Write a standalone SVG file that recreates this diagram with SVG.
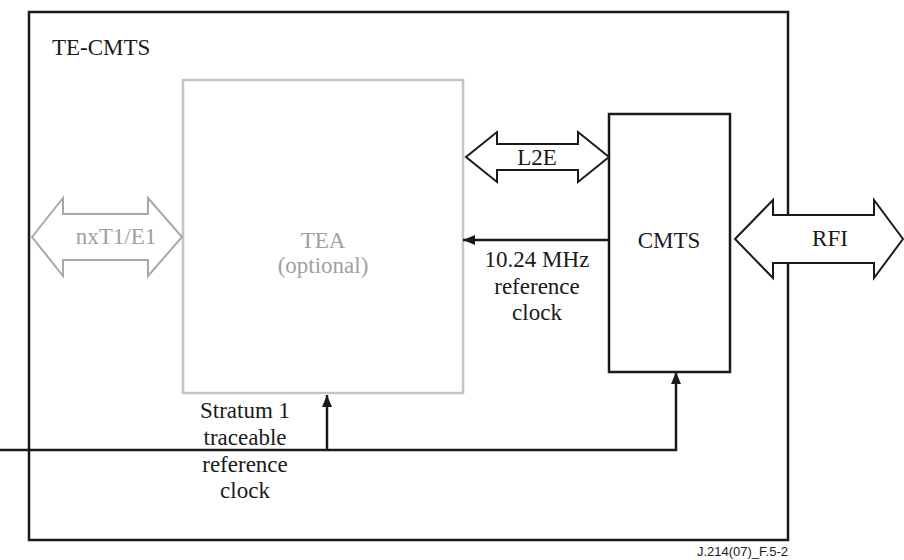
<svg xmlns="http://www.w3.org/2000/svg" width="904" height="560" viewBox="0 0 904 560">
<style>
text{font-family:'Liberation Serif','Times New Roman','DejaVu Serif',serif;font-size:23px;fill:#1a1a1a}
.g{fill:#a0a0a0}
.c{text-anchor:middle}
.ln{stroke:#1a1a1a;stroke-width:2.5;fill:none}
.da{fill:#fff;stroke:#1a1a1a;stroke-width:2}
.dg{fill:#fff;stroke:#a8a8ac;stroke-width:2}
.ft{font-family:'Liberation Sans',Arial,sans-serif;font-size:13px;text-anchor:end}
</style>
<defs>
<marker id="ah" viewBox="0 0 12 10" refX="12" refY="5" markerWidth="12" markerHeight="10" markerUnits="userSpaceOnUse" orient="auto">
<path d="M0,0 L12,5 L0,10 Z" fill="#1a1a1a"/>
</marker>
</defs>
<g id="frame">
<rect x="29" y="12" width="759" height="528" fill="none" stroke="#1a1a1a" stroke-width="2.5"/>
<text x="52" y="55" font-family="Liberation Serif, serif">TE-CMTS</text>
</g>
<g id="tea">
<rect x="183" y="80" width="280" height="313" fill="#fff" stroke="#c4c4c8" stroke-width="2.5"/>
<text class="g c" x="323" y="248">TEA</text>
<text class="g c" x="323" y="273">(optional)</text>
</g>
<g id="cmts">
<rect x="609" y="114" width="121" height="258" fill="#fff" stroke="#1a1a1a" stroke-width="2.5"/>
<text class="c" x="669" y="248">CMTS</text>
</g>
<g id="connectors">
<g id="nxt1">
<polygon class="dg" points="32,237 63,198 63,214 148,214 148,198 182,237 148,276 148,260 63,260 63,276"/>
<text class="g c" x="116" y="244">nxT1/E1</text>
</g>
<g id="l2e">
<polygon class="da" points="466,157 497,132 497,144 578,144 578,132 609,157 578,182 578,170 497,170 497,182"/>
<text class="c" x="537" y="165">L2E</text>
</g>
<g id="rfi">
<polygon class="da" points="735,239 773,200 773,215 874,215 874,200 903,239 874,278 874,263 773,263 773,278"/>
<text class="c" x="830" y="246">RFI</text>
</g>
<line class="ln" x1="609" y1="240" x2="463" y2="240" marker-end="url(#ah)"/>
<text class="c" x="537" y="267">10.24 MHz</text>
<text class="c" x="537" y="294">reference</text>
<text class="c" x="537" y="320">clock</text>
<polyline class="ln" points="0,450 676,450 676,372" marker-end="url(#ah)"/>
<line class="ln" x1="327" y1="450" x2="327" y2="395" marker-end="url(#ah)"/>
<text class="c" x="245" y="418">Stratum 1</text>
<text class="c" x="245" y="445">traceable</text>
<text class="c" x="245" y="472">reference</text>
<text class="c" x="245" y="498">clock</text>
</g>
<text class="ft" x="788" y="556">J.214(07)_F.5-2</text>
</svg>
